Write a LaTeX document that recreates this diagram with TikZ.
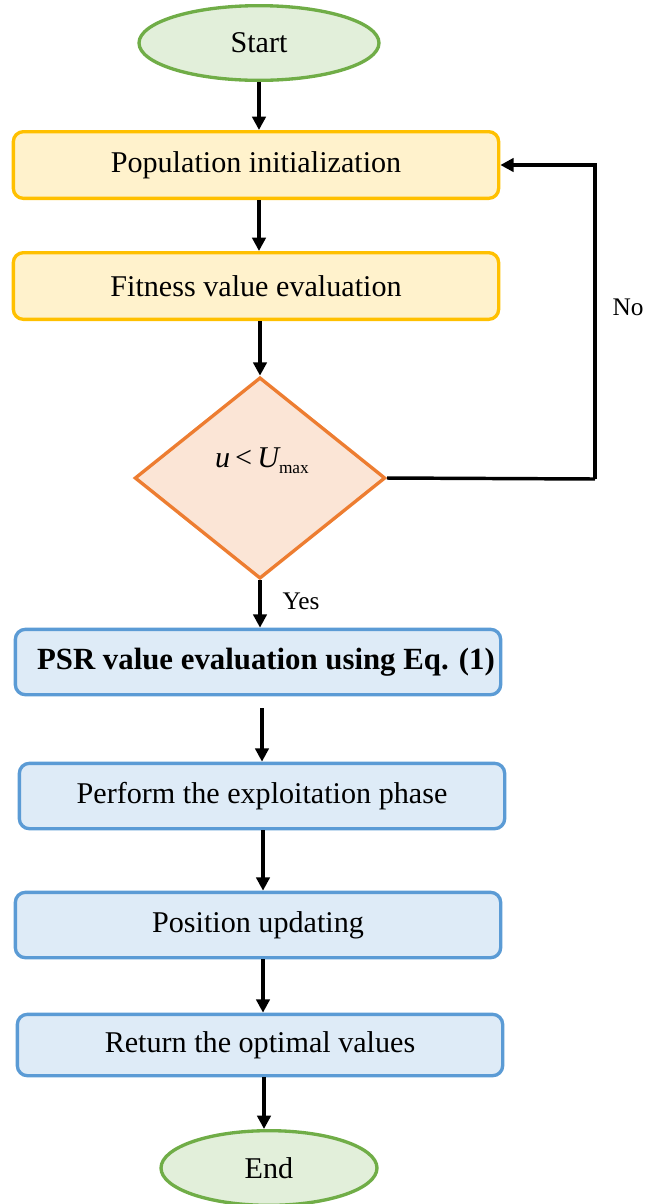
\documentclass[tikz,border=0pt]{standalone}
\usepackage{fontspec}
\setmainfont{Liberation Serif}
\usetikzlibrary{arrows.meta,shapes.geometric}
\definecolor{termfill}{HTML}{E2EFDA}
\definecolor{termline}{HTML}{70AD47}
\definecolor{initfill}{HTML}{FFF2CC}
\definecolor{initline}{HTML}{FFC000}
\definecolor{testfill}{HTML}{FBE5D6}
\definecolor{testline}{HTML}{ED7D31}
\definecolor{procfill}{HTML}{DEEBF7}
\definecolor{procline}{HTML}{5B9BD5}

\begin{document}
\begin{tikzpicture}[x=0.75pt,y=-0.75pt,
    every node/.style={font=\fontsize{22.6}{26}\selectfont},
    term/.style={ellipse,draw=termline,fill=termfill,line width=2.5pt,minimum width=180pt,minimum height=56pt,inner sep=0pt},
    initbox/.style={rectangle,rounded corners=7.5pt,draw=initline,fill=initfill,line width=2.5pt,minimum width=364pt,minimum height=50pt},
    procbox/.style={rectangle,rounded corners=7.5pt,draw=procline,fill=procfill,line width=2.5pt,minimum width=364pt,minimum height=49pt},
    testbox/.style={diamond,draw=testline,fill=testfill,line width=2.5pt,minimum width=188pt,minimum height=151pt,inner sep=0pt},
    answer/.style={font=\fontsize{19}{22}\selectfont,inner sep=0pt},
    flow/.style={line width=2.6pt,-{Triangle[length=10pt,width=10pt]}}]
    \useasboundingbox (0,0) rectangle (659,1204);
    \node[term] (start) at (259,43) {Start};
    \node[initbox] (init) at (256,165) {Population initialization};
    \node[initbox] (fit) at (256,286) {Fitness value evaluation};
    \node[testbox] (test) at (260,478) {};
    \node (cond) at (262,461) {\itshape u\,\upshape<\,\itshape U\upshape\raisebox{-0.45ex}{\fontsize{13}{15}\selectfont max}};
    \coordinate (loop) at (595,479);
    \node[answer] (no) at (628,307) {No};
    \node[answer] (yes) at (301,601) {Yes};
    \node[procbox] (psr) at (258,662) {\hspace{12pt}\fontsize{23.1}{27}\selectfont\bfseries PSR value evaluation using Eq. (1)};
    \node[procbox] (expl) at (262,796) {Perform the exploitation phase};
    \node[procbox] (pos) at (258,925) {Position updating};
    \node[procbox,minimum height=46pt] (ret) at (260,1045) {Return the optimal values};
    \node[term,minimum width=162pt] (end) at (269,1168) {End};
    \draw[flow] (start.south) -- (start.south |- init.north);
    \draw[flow] (init.south -| start.south) -- (fit.north -| start.south);
    \draw[flow] (fit.south -| test.north) -- (test.north);
    \draw[line width=2.6pt] (test.east) -- (loop);
    \draw[flow] (loop) |- (init.east);
    \draw[flow] (test.south) -- (test.south |- psr.north);
    \draw[flow,shorten <=9pt] (psr.south -| expl.north) -- (expl.north);
    \draw[flow] ([xshift=0.75pt]expl.south) -- ([xshift=0.75pt]expl.south |- pos.north);
    \draw[flow] ([xshift=3.75pt]pos.south) -- ([xshift=3.75pt]pos.south |- ret.north);
    \draw[flow] ([xshift=3pt]ret.south) -- ([xshift=3pt]ret.south |- end.north);
\end{tikzpicture}
\end{document}
